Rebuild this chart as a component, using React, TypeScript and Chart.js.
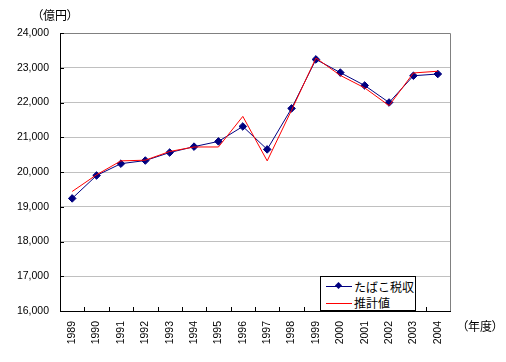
import React, { useEffect, useRef } from "react";
import { Chart, registerables } from "chart.js";

Chart.register(...registerables);

const years = ["1989","1990","1991","1992","1993","1994","1995","1996","1997","1998","1999","2000","2001","2002","2003","2004"];
const taxRevenue = [19240,19900,20240,20330,20560,20730,20880,21310,20650,21830,23240,22860,22490,22000,22770,22820];
const estimate = [19440,19920,20320,20340,20590,20720,20720,21600,20320,21780,23280,22780,22420,21910,22850,22900];
const yTicks = { min: 16000, max: 24000, step: 1000 };
const seriesLabels = ["たばこ税収", "推計値"];
const yUnit = "（億円）";
const xUnit = "（年度）";

const tickFont = { family: "'Liberation Sans', Arial, sans-serif", size: 10.5 };
const jpFont = "'Noto Sans CJK JP', sans-serif";

const framePlugin = {
  id: "frame",
  afterDatasetsDraw(chart: any) {
    const { ctx, chartArea } = chart;
    const { left, right, top, bottom } = chartArea;
    const xs = chart.scales.x;
    const ys = chart.scales.y;
    ctx.save();
    ctx.lineWidth = 1;
    ctx.strokeStyle = "#808080";
    ctx.beginPath();
    ctx.moveTo(left, top + 0.5);
    ctx.lineTo(right + 0.5, top + 0.5);
    ctx.lineTo(right + 0.5, bottom);
    ctx.stroke();
    ctx.strokeStyle = "#000000";
    ctx.beginPath();
    ctx.moveTo(left + 0.5, top);
    ctx.lineTo(left + 0.5, bottom + 0.5);
    ctx.lineTo(right + 1, bottom + 0.5);
    ctx.stroke();
    ctx.beginPath();
    for (const t of ys.ticks) {
      const y = Math.round(ys.getPixelForValue(t.value)) + 0.5;
      ctx.moveTo(left, y);
      ctx.lineTo(left + 4, y);
    }
    const n = years.length;
    const half = (xs.getPixelForValue(1) - xs.getPixelForValue(0)) / 2;
    for (let i = 1; i < n; i++) {
      const x = Math.round(xs.getPixelForValue(i) - half) + 0.5;
      ctx.moveTo(x, bottom);
      ctx.lineTo(x, bottom - 4);
    }
    ctx.stroke();
    ctx.restore();
  },
};

export default function App() {
  const ref = useRef<HTMLCanvasElement>(null);
  useEffect(() => {
    document.body.style.margin = "0";
    const chart = new Chart(ref.current as HTMLCanvasElement, {
      type: "line",
      data: {
        labels: years,
        datasets: [
          {
            label: seriesLabels[0],
            data: taxRevenue,
            borderColor: "#000080",
            backgroundColor: "#000080",
            borderWidth: 1,
            pointStyle: "rectRot",
            pointRadius: 3.8,
            pointBorderWidth: 1,
            tension: 0,
            order: 1,
          },
          {
            label: seriesLabels[1],
            data: estimate,
            borderColor: "#ff0000",
            backgroundColor: "#ff0000",
            borderWidth: 1,
            pointRadius: 0,
            tension: 0,
            order: 0,
          },
        ],
      },
      options: {
        animation: false,
        responsive: false,
        layout: { padding: { left: 0, top: 33, right: 56, bottom: 0 } },
        plugins: { legend: { display: false }, tooltip: { enabled: false } },
        scales: {
          x: {
            offset: true,
            grid: { display: false, drawTicks: false },
            border: { display: false },
            ticks: {
              maxRotation: 90,
              minRotation: 90,
              padding: 10,
              color: "#000",
              font: tickFont,
              autoSkip: false,
            },
            afterFit: (s: any) => { s.height = 51; },
          },
          y: {
            min: yTicks.min,
            max: yTicks.max,
            grid: { color: "#c0c0c0", drawTicks: false, lineWidth: 1 },
            border: { display: false },
            ticks: {
              stepSize: yTicks.step,
              padding: 11,
              color: "#000",
              font: tickFont,
              callback: (v: any) => Number(v).toLocaleString("en-US"),
            },
            afterFit: (s: any) => { s.width = 60; },
          },
        },
      },
      plugins: [framePlugin],
    });
    return () => chart.destroy();
  }, []);

  const lineSample = (color: string, marker: boolean) => (
    <div style={{ position: "relative", width: 26, height: 1, background: color, marginRight: 2, flex: "none" }}>
      {marker && (
        <div style={{ position: "absolute", left: 10, top: -3, width: 5, height: 5, background: color, transform: "rotate(45deg)" }} />
      )}
    </div>
  );

  const unitStyle: React.CSSProperties = {
    position: "absolute",
    fontFamily: jpFont,
    fontSize: 12,
    lineHeight: "16px",
    fontFeatureSettings: "'palt'",
    color: "#000",
    whiteSpace: "nowrap",
    margin: 0,
    padding: 0,
  };

  return (
    <div style={{ position: "relative", width: 506, height: 362, background: "#fff", overflow: "hidden" }}>
      <canvas ref={ref} width={506} height={362} style={{ display: "block", position: "absolute", left: 0, top: 0 }} />
      <div style={{ ...unitStyle, left: 37, top: 7 }}>{yUnit}</div>
      <div style={{ ...unitStyle, left: 462, top: 318 }}>{xUnit}</div>
      <div style={{ position: "absolute", left: 320, top: 276, width: 96, height: 35, boxSizing: "border-box", border: "1px solid #000", background: "#fff", fontFamily: jpFont, fontSize: 12, color: "#000", paddingLeft: 5, paddingTop: 1 }}>
        <div style={{ display: "flex", alignItems: "center", height: 17 }}>
          {lineSample("#000080", true)}
          <span style={{ lineHeight: "16px", whiteSpace: "nowrap" }}>{seriesLabels[0]}</span>
        </div>
        <div style={{ display: "flex", alignItems: "center", height: 16 }}>
          {lineSample("#ff0000", false)}
          <span style={{ lineHeight: "16px", whiteSpace: "nowrap" }}>{seriesLabels[1]}</span>
        </div>
      </div>
    </div>
  );
}
